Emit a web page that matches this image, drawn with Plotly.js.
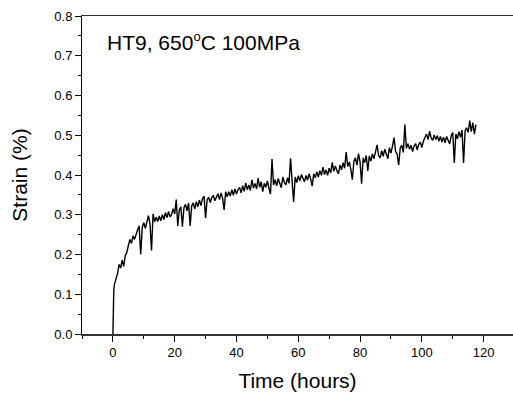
<!DOCTYPE html>
<html>
<head>
<meta charset="utf-8">
<script src="https://cdn.plot.ly/plotly-3.0.1.min.js"></script>
<style>html,body{margin:0;padding:0;overflow:hidden;background:#fff;}</style>
</head>
<body>
<div id="chart" style="width:513px;height:394px;"></div>
<script>
const timeHours = [
  0, 0.1, 0.2, 0.3, 0.5,
  1.0, 1.5, 2.0, 2.5, 3.0, 3.5, 4.0, 4.5, 5.0, 5.5, 6.0, 6.5, 7.0, 7.5, 8.0, 8.5, 9.0, 9.5, 10.0, 10.5,
  11.0, 11.5, 12.0, 12.5, 13.0, 13.5, 14.0, 14.5, 15.0, 15.5, 16.0, 16.5, 17.0, 17.5, 18.0, 18.5, 19.0, 19.5, 20.0, 20.5,
  21.0, 21.5, 22.0, 22.5, 23.0, 23.5, 24.0, 24.5, 25.0, 25.5, 26.0, 26.5, 27.0, 27.5, 28.0, 28.5, 29.0, 29.5, 30.0, 30.5,
  31.0, 31.5, 32.0, 32.5, 33.0, 33.5, 34.0, 34.5, 35.0, 35.5, 36.0, 36.5, 37.0, 37.5, 38.0, 38.5, 39.0, 39.5, 40.0, 40.5,
  41.0, 41.5, 42.0, 42.5, 43.0, 43.5, 44.0, 44.5, 45.0, 45.5, 46.0, 46.5, 47.0, 47.5, 48.0, 48.5, 49.0, 49.5, 50.0, 50.5,
  51.0, 51.5, 52.0, 52.5, 53.0, 53.5, 54.0, 54.5, 55.0, 55.5, 56.0, 56.5, 57.0, 57.5, 58.0, 58.5, 59.0, 59.5, 60.0, 60.5,
  61.0, 61.5, 62.0, 62.5, 63.0, 63.5, 64.0, 64.5, 65.0, 65.5, 66.0, 66.5, 67.0, 67.5, 68.0, 68.5, 69.0, 69.5, 70.0, 70.5,
  71.0, 71.5, 72.0, 72.5, 73.0, 73.5, 74.0, 74.5, 75.0, 75.5, 76.0, 76.5, 77.0, 77.5, 78.0, 78.5, 79.0, 79.5, 80.0, 80.5,
  81.0, 81.5, 82.0, 82.5, 83.0, 83.5, 84.0, 84.5, 85.0, 85.5, 86.0, 86.5, 87.0, 87.5, 88.0, 88.5, 89.0, 89.5, 90.0, 90.5,
  91.0, 91.5, 92.0, 92.5, 93.0, 93.5, 94.0, 94.5, 95.0, 95.5, 96.0, 96.5, 97.0, 97.5, 98.0, 98.5, 99.0, 99.5, 100.0, 100.5,
  101.0, 101.5, 102.0, 102.5, 103.0, 103.5, 104.0, 104.5, 105.0, 105.5, 106.0, 106.5, 107.0, 107.5, 108.0, 108.5, 109.0, 109.5, 110.0, 110.5,
  111.0, 111.5, 112.0, 112.5, 113.0, 113.5, 114.0, 114.5, 115.0, 115.5, 116.0, 116.5, 117.0, 117.5
];

const strainPct = [
  0, 0.05, 0.09, 0.112, 0.125,
  0.138, 0.152, 0.175, 0.166, 0.186, 0.170, 0.197, 0.205, 0.222, 0.238, 0.228, 0.247, 0.238, 0.254, 0.262, 0.272, 0.200, 0.268, 0.280, 0.266,
  0.284, 0.298, 0.278, 0.210, 0.302, 0.282, 0.294, 0.283, 0.297, 0.285, 0.300, 0.288, 0.305, 0.293, 0.308, 0.295, 0.300, 0.315, 0.302, 0.338,
  0.272, 0.312, 0.320, 0.270, 0.318, 0.326, 0.310, 0.330, 0.272, 0.322, 0.330, 0.315, 0.333, 0.320, 0.337, 0.323, 0.340, 0.347, 0.292, 0.338,
  0.344, 0.331, 0.343, 0.349, 0.335, 0.347, 0.353, 0.338, 0.355, 0.342, 0.312, 0.358, 0.345, 0.358, 0.347, 0.363, 0.349, 0.365, 0.352, 0.363,
  0.369, 0.355, 0.373, 0.359, 0.380, 0.363, 0.375, 0.361, 0.388, 0.367, 0.379, 0.365, 0.392, 0.369, 0.383, 0.358, 0.379, 0.369, 0.385, 0.367,
  0.352, 0.440, 0.375, 0.388, 0.373, 0.391, 0.377, 0.368, 0.395, 0.381, 0.375, 0.393, 0.379, 0.442, 0.385, 0.332, 0.395, 0.381, 0.398, 0.385,
  0.401, 0.389, 0.383, 0.399, 0.387, 0.403, 0.391, 0.372, 0.403, 0.393, 0.408, 0.395, 0.411, 0.399, 0.420, 0.401, 0.413, 0.399, 0.417, 0.405,
  0.432, 0.409, 0.423, 0.411, 0.403, 0.425, 0.413, 0.431, 0.417, 0.458, 0.421, 0.433, 0.415, 0.388, 0.435, 0.443, 0.425, 0.454, 0.433, 0.378,
  0.443, 0.431, 0.449, 0.410, 0.448, 0.435, 0.453, 0.441, 0.459, 0.476, 0.449, 0.443, 0.461, 0.447, 0.465, 0.452, 0.441, 0.469, 0.455, 0.473,
  0.494, 0.459, 0.453, 0.425, 0.468, 0.475, 0.457, 0.527, 0.467, 0.479, 0.465, 0.475, 0.459, 0.473, 0.479, 0.463, 0.477, 0.483, 0.469, 0.485,
  0.493, 0.503, 0.489, 0.510, 0.493, 0.487, 0.501, 0.489, 0.499, 0.485, 0.497, 0.483, 0.495, 0.481, 0.497, 0.485, 0.478, 0.499, 0.507, 0.430,
  0.503, 0.491, 0.509, 0.495, 0.513, 0.430, 0.511, 0.519, 0.507, 0.537, 0.509, 0.532, 0.503, 0.527
];

const xTickVals = [0, 20, 40, 60, 80, 100, 120];
const yTickVals = [0.0, 0.1, 0.2, 0.3, 0.4, 0.5, 0.6, 0.7, 0.8];
const labelText = 'HT9, 650<sup><span style="font-size:13px">o</span></sup>C 100MPa';
const xTitle = 'Time (hours)';
const yTitle = 'Strain (%)';

const fontFamily = 'Liberation Sans, Arial, sans-serif';

const trace = {
  x: timeHours,
  y: strainPct,
  type: 'scatter',
  mode: 'lines',
  line: {color: '#000000', width: 1.4},
  hoverinfo: 'skip'
};

const layout = {
  width: 513,
  height: 394,
  margin: {l: 82, r: 0, t: 16, b: 60},
  paper_bgcolor: '#ffffff',
  plot_bgcolor: '#ffffff',
  showlegend: false,
  font: {family: fontFamily, color: '#000000', size: 13},
  xaxis: {
    range: [-10, 129.5],
    tickvals: xTickVals,
    ticktext: xTickVals.map(String),
    ticks: 'outside',
    ticklen: 6,
    tickwidth: 1,
    tickcolor: '#000000',
    minor: {dtick: 10, tick0: 0, ticks: 'outside', ticklen: 3, tickwidth: 1, tickcolor: '#000000', showgrid: false},
    showline: true,
    linecolor: '#333333',
    linewidth: 1.5,
    mirror: true,
    showgrid: false,
    zeroline: false,
    tickfont: {family: fontFamily, size: 13, color: '#000000'},
    title: {text: xTitle, font: {family: fontFamily, size: 21, color: '#000000'}, standoff: 14}
  },
  yaxis: {
    range: [0, 0.8],
    tickvals: yTickVals,
    ticktext: yTickVals.map(v => v.toFixed(1)),
    ticks: 'outside',
    ticklen: 6,
    tickwidth: 1,
    tickcolor: '#000000',
    minor: {dtick: 0.05, tick0: 0, ticks: 'outside', ticklen: 3, tickwidth: 1, tickcolor: '#000000', showgrid: false},
    showline: true,
    linecolor: '#000000',
    linewidth: 1,
    showgrid: false,
    zeroline: false,
    tickfont: {family: fontFamily, size: 13, color: '#000000'},
    title: {text: yTitle, font: {family: fontFamily, size: 21, color: '#000000'}, standoff: 20}
  },
  annotations: [{
    text: labelText,
    xref: 'paper', yref: 'paper',
    x: 0.053, y: 0.921,
    xanchor: 'left', yanchor: 'middle',
    showarrow: false,
    font: {family: fontFamily, size: 21, color: '#000000'}
  }]
};

Plotly.newPlot('chart', [trace], layout, {staticPlot: true, displayModeBar: false});
</script>
</body>
</html>
